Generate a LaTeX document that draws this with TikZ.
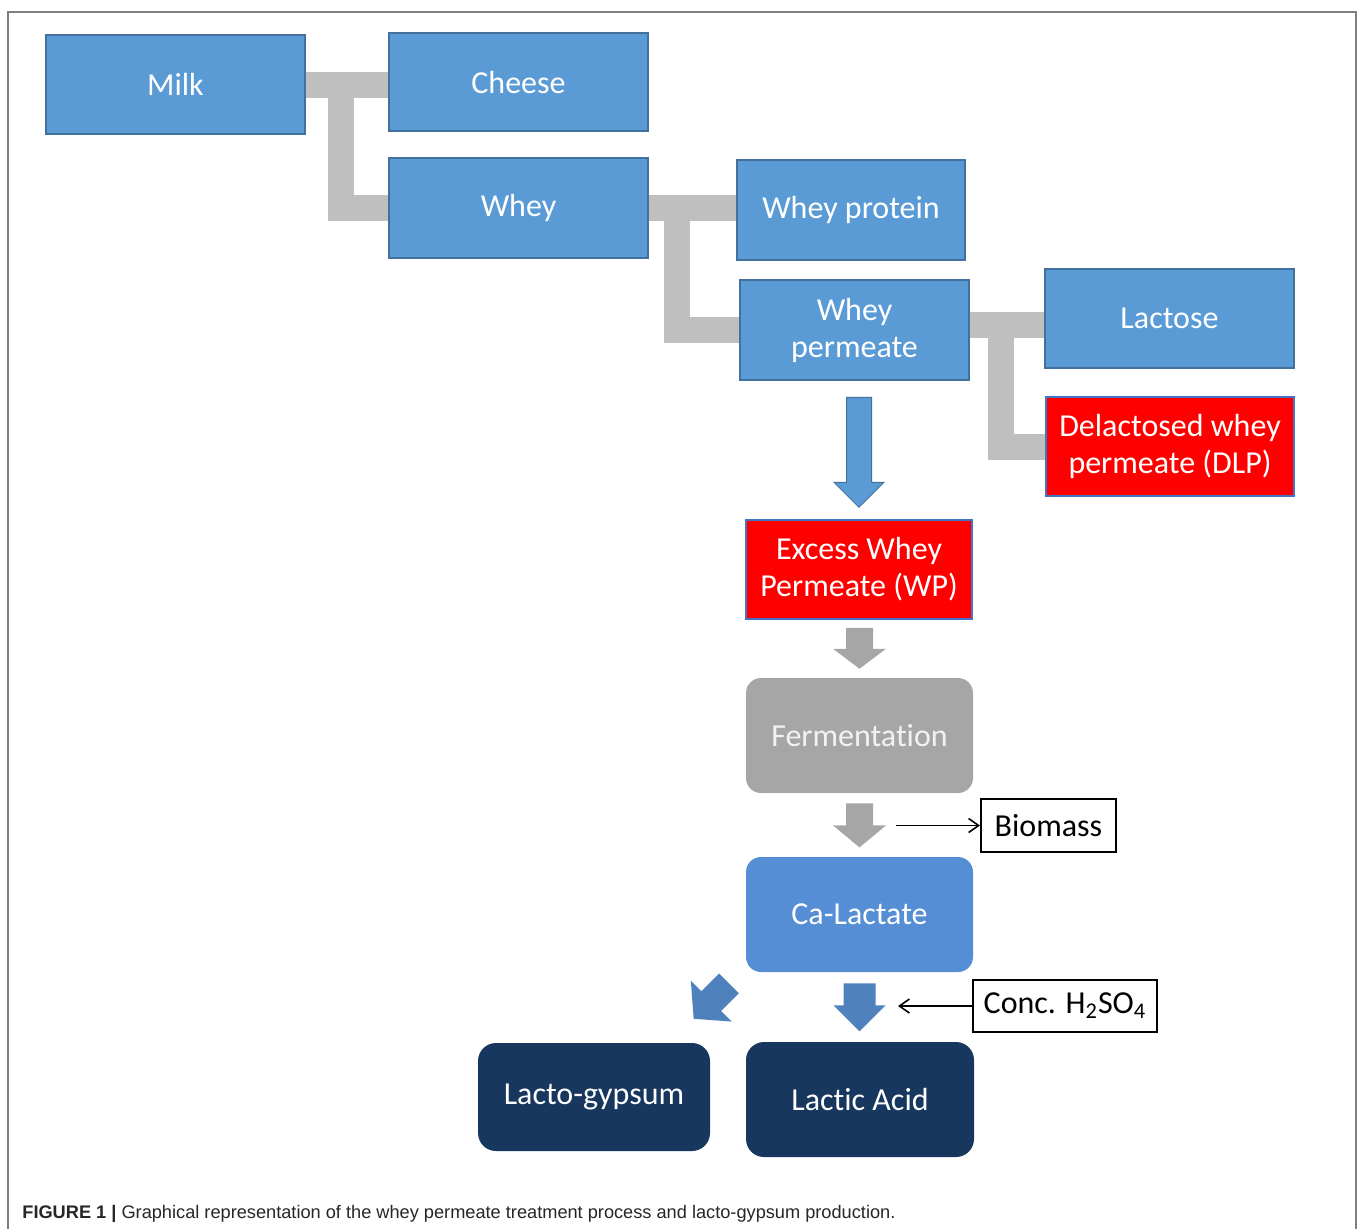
\documentclass[tikz,border=0pt]{standalone}
\usepackage{fontspec}
\setmainfont{Carlito}[Ligatures={NoCommon}]
\newfontfamily\capfont{Liberation Sans}
\usetikzlibrary{calc,backgrounds,arrows.meta}
\definecolor{boxblue}{HTML}{5B9BD5}
\definecolor{boxedge}{HTML}{41719C}
\definecolor{calblue}{HTML}{558ED5}
\definecolor{navybox}{HTML}{17375E}
\definecolor{conngray}{HTML}{BFBFBF}
\definecolor{fermgray}{HTML}{A6A6A6}
\definecolor{arrblue}{HTML}{4F81BD}
\definecolor{framegray}{HTML}{808080}
\definecolor{rededge}{HTML}{4472C4}
\tikzset{
  pics/blockarrow/.style n args={5}{code={
    \path[#5] (-#1,0) -- (#1,0) -- (#1,#3) -- (#2,#3) -- (0,#3+#4) -- (-#2,#3) -- (-#1,#3) -- cycle;}}
}
\begin{document}
\begin{tikzpicture}[x=0.5pt,y=-0.5pt,
  every node/.style={inner sep=0pt, font=\fontsize{16}{18.5}\selectfont, align=center},
  bluebox/.style={draw=boxedge, line width=0.75pt, fill=boxblue, text=white},
  redbox/.style={draw=rededge, line width=0.75pt, fill=red, text=white},
  roundbox/.style={rounded corners=7.5pt, text=white},
  plainbox/.style={draw=black, line width=1pt, fill=white, text=black},
  bar/.style={draw=conngray, line width=13pt, line join=miter},
  thinarrow/.style={draw=black, line width=0.8pt, -{Straight Barb[length=5pt,width=7pt]}},
]
\useasboundingbox (0,0) rectangle (1360,1228);
% frame
\draw[framegray, line width=1pt] (7.5,1230) -- (7.5,11.5) -- (1356,11.5) -- (1356,1230);

% top boxes
\node[bluebox, minimum width=129.5pt, minimum height=49.5pt] (milk) at (175.5,84.5) {Milk};
\node[bluebox, minimum width=129.5pt, minimum height=49pt] (cheese) at (518.5,82) {Cheese};
\node[bluebox, minimum width=129.5pt, minimum height=50pt] (whey) at (518.5,208) {Whey};
\node[bluebox, minimum width=114pt, minimum height=50pt] (wprot) at (851,210) {Whey protein};
\node[bluebox, minimum width=114.5pt, minimum height=50pt] (perm) at (854.5,330) {Whey\\permeate};
\node[bluebox, minimum width=124.5pt, minimum height=49.5pt] (lact) at (1169.5,318.5) {Lactose};
\node[redbox, minimum width=124pt, minimum height=49.5pt] (dlp) at (1170,446.5) {Delactosed whey\\permeate (DLP)};

% process chain
\node[redbox, minimum width=113pt, minimum height=49.5pt] (wp) at (859,569.5) {Excess Whey\\Permeate (WP)};
\node[roundbox, fill=fermgray, text=white!95!black, minimum width=113.5pt, minimum height=57.5pt] (ferm) at (859.5,735.5) {Fermentation};
\node[plainbox, minimum width=67.5pt, minimum height=26.5pt] (bio) at (1048.5,825.5) {Biomass};
\node[roundbox, fill=calblue, minimum width=113.5pt, minimum height=57.5pt] (calac) at (859.5,914.5) {Ca-Lactate};
\node[plainbox, minimum width=92pt, minimum height=26pt] (acid) at (1065,1006) {Conc. H\textsubscript{2}SO\textsubscript{4}};
\node[roundbox, rounded corners=9pt, fill=navybox, minimum width=116pt, minimum height=54pt] (gyp) at (594,1097) {Lacto-gypsum};
\node[roundbox, rounded corners=9pt, fill=navybox, minimum width=114pt, minimum height=57.5pt] (lacid) at (860,1099.5) {Lactic Acid};

% gray elbow connectors
\coordinate (pe) at ($(perm.east)+(0,-5)$);
\begin{scope}[on background layer]
\draw[bar] (milk.east) -- (milk.east -| cheese.west);
\draw[bar] (milk.east) -- ++(35,0) |- (whey.west);
\draw[bar] (whey.east) -- (whey.east -| wprot.west);
\draw[bar] (whey.east) -- ++(28,0) |- (perm.west);
\draw[bar] (pe) -- (pe -| lact.west);
\draw[bar] (pe) -- ++(31,0) |- (dlp.west);
\end{scope}

% block arrows
\pic at ($(wp.north)+(0,-122)$) {blockarrow={12.5}{25}{85}{25}{fill=boxblue, draw=boxedge, line width=0.5pt}};
\pic at ($(wp.south)+(0.5,8)$) {blockarrow={13.5}{26.5}{21}{20}{fill=fermgray}};
\pic at ($(ferm.south)+(0,10)$) {blockarrow={13.5}{26.5}{22}{22}{fill=fermgray}};
\pic at ($(calac.south)+(0,11)$) {blockarrow={16}{26}{22}{26}{fill=arrblue}};
\pic[rotate=-45] at ($(calac.south)+(-130.5,11)$) {blockarrow={14}{29}{25}{25}{fill=arrblue}};

% thin arrows
\coordinate (bstart) at (896,825.5);
\draw[thinarrow] (bstart) -- (bio.west);
\coordinate (aend) at (898,1006);
\draw[thinarrow] (acid.west) -- (aend);

% caption
\node[anchor=base west, font=\capfont\fontsize{9.1}{11}\selectfont, text=black!85, align=left] (cap) at (22,1218)
  {\textbf{FIGURE 1 |} Graphical representation of the whey permeate treatment process and lacto-gypsum production.};
\end{tikzpicture}
\end{document}
